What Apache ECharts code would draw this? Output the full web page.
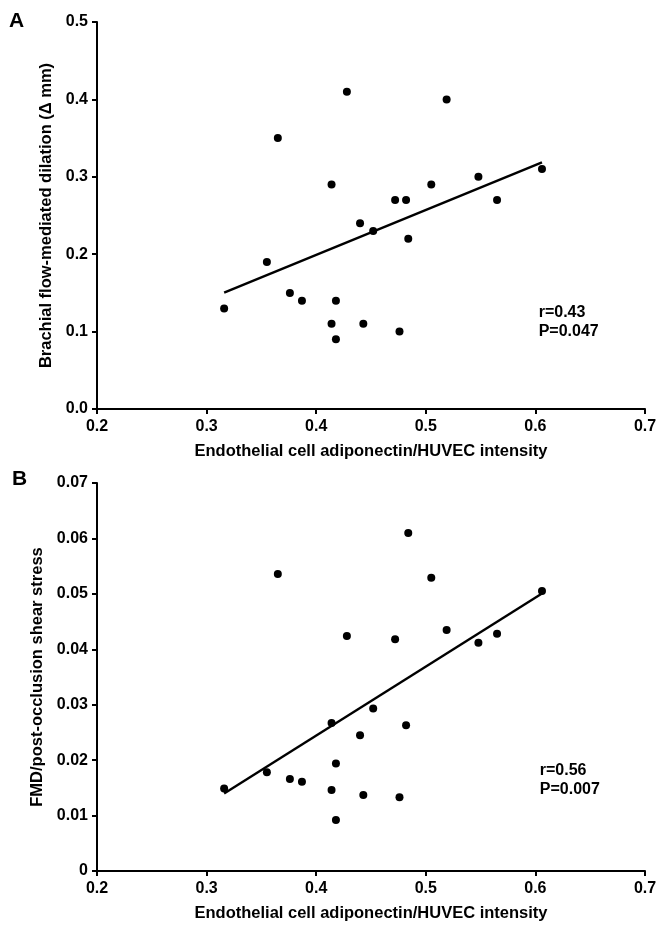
<!DOCTYPE html>
<html>
<head>
<meta charset="utf-8">
<script src="https://cdn.jsdelivr.net/npm/echarts@6/dist/echarts.min.js"></script>
<style>
html,body{margin:0;padding:0;background:#fff;}
#chart{width:664px;height:932px;}
</style>
</head>
<body>
<div id="chart"></div>
<script>
// ---- data ----
const adiponectin = [0.316,0.355,0.365,0.376,0.387,0.414,0.414,0.418,0.418,0.428,0.440,0.443,0.452,0.472,0.476,0.482,0.484,0.505,0.519,0.548,0.565,0.606];
const fmdA = [0.13,0.19,0.35,0.15,0.14,0.29,0.11,0.14,0.09,0.41,0.24,0.11,0.23,0.27,0.10,0.27,0.22,0.29,0.40,0.30,0.27,0.31];
const fmdShearB = [0.0149,0.0178,0.0536,0.0166,0.0161,0.0267,0.0146,0.0194,0.0092,0.0424,0.0245,0.0137,0.0293,0.0418,0.0133,0.0263,0.0610,0.0529,0.0435,0.0412,0.0428,0.0505];
const xTickLabels = ['0.2','0.3','0.4','0.5','0.6','0.7'];
const yTickLabelsA = ['0.0','0.1','0.2','0.3','0.4','0.5'];
const yTickLabelsB = ['0','0.01','0.02','0.03','0.04','0.05','0.06','0.07'];
const statsA = ['r=0.43','P=0.047'];
const statsB = ['r=0.56','P=0.007'];
const xTitle = 'Endothelial cell adiponectin/HUVEC intensity';
const yTitleA = 'Brachial flow-mediated dilation (\u0394 mm)';
const yTitleB = 'FMD/post-occlusion shear stress';

function fit(xs, ys){
  const n = xs.length;
  const mx = xs.reduce((a,b)=>a+b,0)/n, my = ys.reduce((a,b)=>a+b,0)/n;
  let sxy=0, sxx=0;
  for(let i=0;i<n;i++){ sxy+=(xs[i]-mx)*(ys[i]-my); sxx+=(xs[i]-mx)**2; }
  const b = sxy/sxx, a = my-b*mx;
  const x0 = Math.min(...xs), x1 = Math.max(...xs);
  return [[x0, a+b*x0],[x1, a+b*x1]];
}

const FONT = "'Liberation Sans', Arial, sans-serif";
const C = '#000';
const tickStyle = {fontFamily:FONT, fontWeight:'bold', fontSize:16, color:'#000'};
const titleStyle = {fontFamily:FONT, fontWeight:'bold', fontSize:16.5, color:'#000'};

function xAxisCfg(gi){
  return {
    gridIndex: gi, type:'value', min:0.2, max:0.7, interval:0.1,
    name: xTitle, nameLocation:'middle', nameGap:34,
    nameTextStyle: titleStyle,
    axisLine:{show:true, onZero:false, lineStyle:{color:C, width:2}},
    axisTick:{show:true, inside:false, length:5, lineStyle:{color:C, width:2}},
    axisLabel:{...tickStyle, margin:10, formatter:(v)=>xTickLabels[Math.round((v-0.2)*10)] ?? ''},
    splitLine:{show:false}
  };
}

const chart = echarts.init(document.getElementById('chart'), null, {renderer:'canvas'});
const option = {
  backgroundColor:'#fff',
  animation:false,
  grid:[
    {left:97, right:19, top:22, height:387},
    {left:97, right:19, top:483, height:388}
  ],
  xAxis:[xAxisCfg(0), xAxisCfg(1)],
  yAxis:[
    {gridIndex:0, type:'value', min:0, max:0.5, interval:0.1,
     name:yTitleA, nameLocation:'middle', nameGap:42, nameRotate:90,
     nameTextStyle: titleStyle,
     axisLine:{show:true, onZero:false, lineStyle:{color:C, width:2}},
     axisTick:{show:true, length:5, lineStyle:{color:C, width:2}},
     axisLabel:{...tickStyle, margin:9, formatter:(v)=>yTickLabelsA[Math.round(v*10)] ?? ''},
     splitLine:{show:false}},
    {gridIndex:1, type:'value', min:0, max:0.07, interval:0.01,
     name:yTitleB, nameLocation:'middle', nameGap:51, nameRotate:90,
     nameTextStyle: titleStyle,
     axisLine:{show:true, onZero:false, lineStyle:{color:C, width:2}},
     axisTick:{show:true, length:5, lineStyle:{color:C, width:2}},
     axisLabel:{...tickStyle, margin:9, formatter:(v)=>yTickLabelsB[Math.round(v*100)] ?? ''},
     splitLine:{show:false}}
  ],
  series:[
    {type:'scatter', xAxisIndex:0, yAxisIndex:0, symbol:'circle', symbolSize:8,
     itemStyle:{color:C, opacity:1}, data: adiponectin.map((x,i)=>[x, fmdA[i]])},
    {type:'line', xAxisIndex:0, yAxisIndex:0, symbol:'none', lineStyle:{color:C, width:2.4},
     data: fit(adiponectin, fmdA)},
    {type:'scatter', xAxisIndex:1, yAxisIndex:1, symbol:'circle', symbolSize:8,
     itemStyle:{color:C, opacity:1}, data: adiponectin.map((x,i)=>[x, fmdShearB[i]])},
    {type:'line', xAxisIndex:1, yAxisIndex:1, symbol:'none', lineStyle:{color:C, width:2.4},
     data: fit(adiponectin, fmdShearB)}
  ]
};
chart.setOption(option);

// statistics text anchored to data positions, plus panel letters
const pA1 = chart.convertToPixel({gridIndex:0}, [0.603, 0.124]);
const pA2 = chart.convertToPixel({gridIndex:0}, [0.603, 0.100]);
const pB1 = chart.convertToPixel({gridIndex:1}, [0.604, 0.0181]);
const pB2 = chart.convertToPixel({gridIndex:1}, [0.604, 0.0146]);
const gA = chart.convertToPixel({gridIndex:0}, [0.2, 0.5]);
const gB = chart.convertToPixel({gridIndex:1}, [0.2, 0.07]);
const statStyle = {fontFamily:FONT, fontWeight:'bold', fontSize:16, fill:'#000', textVerticalAlign:'middle', textAlign:'left'};
chart.setOption({
  graphic:[
    {type:'text', x:pA1[0], y:pA1[1], style:{...statStyle, text:statsA[0]}},
    {type:'text', x:pA2[0], y:pA2[1], style:{...statStyle, text:statsA[1]}},
    {type:'text', x:pB1[0], y:pB1[1], style:{...statStyle, text:statsB[0]}},
    {type:'text', x:pB2[0], y:pB2[1], style:{...statStyle, text:statsB[1]}},
    {type:'text', x:gA[0]-88, y:gA[1]-1, style:{fontFamily:FONT, fontWeight:'bold', fontSize:21, fill:'#000', text:'A', textVerticalAlign:'middle'}},
    {type:'text', x:gB[0]-85, y:gB[1]-4, style:{fontFamily:FONT, fontWeight:'bold', fontSize:21, fill:'#000', text:'B', textVerticalAlign:'middle'}}
  ]
});
</script>
</body>
</html>
